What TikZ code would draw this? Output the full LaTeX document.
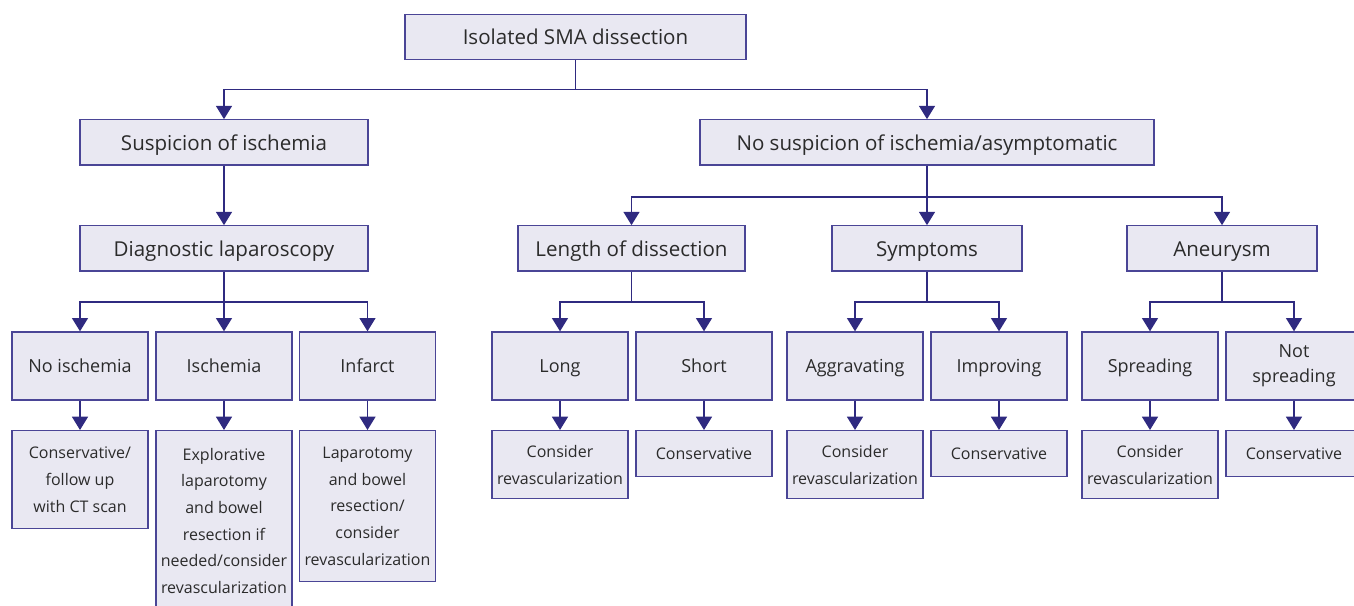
\documentclass[tikz,border=0pt]{standalone}
\usepackage{fontspec}
\setmainfont{Open Sans}
\usetikzlibrary{arrows.meta}
\definecolor{boxfill}{HTML}{E9E8F2}
\definecolor{boxline}{HTML}{4A4596}
\definecolor{arrcol}{HTML}{2F2A80}
\definecolor{txt}{HTML}{2B2B2B}
\begin{document}
\begin{tikzpicture}[x=0.75pt,y=-0.75pt,
  box/.style={draw=boxline,fill=boxfill,line width=1pt,inner sep=0pt,align=center,text=txt},
  big/.style={box,font=\fontsize{15.4}{19}\selectfont,minimum height=34pt,text height=12.4pt,text depth=1pt},
  mid/.style={box,font=\fontsize{13.5}{19}\selectfont,minimum width=102pt,minimum height=51pt},
  one/.style={text height=10.8pt,text depth=0.8pt},
  sml/.style={box,font=\fontsize{12}{20}\selectfont,minimum width=102pt,anchor=north},
  arr/.style={draw=arrcol,line width=1.1pt,-{Triangle[width=12pt,length=10pt]}}]
\useasboundingbox (0,0) rectangle (1354,606);
\clip (0,0) rectangle (1354,606);
% level 0-1
\node[big,minimum width=255.75pt] (top) at (575.5,37) {Isolated SMA dissection};
\node[big,minimum width=216pt] (susp) at (224,142.5) {Suspicion of ischemia};
\node[big,minimum width=340.5pt] (nosusp) at (927,142.5) {No suspicion of ischemia/asymptomatic};
% level 2
\node[big,minimum width=216pt] (diag) at (224,248.5) {Diagnostic laparoscopy};
\node[big,minimum width=170.25pt] (length) at (631.5,248.5) {Length of dissection};
\node[big,minimum width=142.5pt] (sympt) at (927,248.5) {Symptoms};
\node[big,minimum width=142.5pt] (aneur) at (1222,248.5) {Aneurysm};
% level 3
\node[mid,one] (noisch) at (80,366) {No ischemia};
\node[mid,one] (isch) at (224,366) {Ischemia};
\node[mid,one] (infarct) at (367.5,366) {Infarct};
\node[mid,one] (long) at (560,366) {Long};
\node[mid,one] (short) at (704,366) {Short};
\node[mid,one] (aggr) at (855,366) {Aggravating};
\node[mid,one] (impr) at (999,366) {Improving};
\node[mid,one] (spread) at (1150,366) {Spreading};
\node[mid] (notspread) at (1294,366) {Not\\spreading};
% level 4
\node[sml,minimum height=73.5pt] (r1) at (80,430) {Conservative/\\follow up\\with CT scan};
\node[sml,minimum height=135pt] (r2) at (224,430) {Explorative\\laparotomy\\and bowel\\resection if\\needed/consider\\revascularization};
\node[sml,minimum height=113.25pt] (r3) at (367.5,430) {Laparotomy\\and bowel\\resection/\\consider\\revascularization};
\node[sml,minimum height=51pt] (r4) at (560,430) {Consider\\revascularization};
\node[sml,minimum height=34.5pt] (r5) at (704,430) {Conservative};
\node[sml,minimum height=51pt] (r6) at (855,430) {Consider\\revascularization};
\node[sml,minimum height=34.5pt] (r7) at (999,430) {Conservative};
\node[sml,minimum height=51pt] (r8) at (1150,430) {Consider\\revascularization};
\node[sml,minimum height=34.5pt] (r9) at (1294,430) {Conservative};
% connectors
\draw[arr] (top.south) -- ++(0,29) -| (susp.north);
\draw[arr] (top.south) -- ++(0,29) -| (nosusp.north);
\draw[arr] (susp) -- (diag);
\draw[arr] (diag.south) -- ++(0,30) -| (noisch.north);
\draw[arr] (diag.south) -- ++(0,30) -| (isch.north);
\draw[arr] (diag.south) -- ++(0,30) -| (infarct.north);
\draw[arr] (nosusp.south) -- ++(0,31) -| (length.north);
\draw[arr] (nosusp.south) -- ++(0,31) -| (sympt.north);
\draw[arr] (nosusp.south) -- ++(0,31) -| (aneur.north);
\draw[arr] (length.south) -- ++(0,30) -| (long.north);
\draw[arr] (length.south) -- ++(0,30) -| (short.north);
\draw[arr] (sympt.south) -- ++(0,30) -| (aggr.north);
\draw[arr] (sympt.south) -- ++(0,30) -| (impr.north);
\draw[arr] (aneur.south) -- ++(0,30) -| (spread.north);
\draw[arr] (aneur.south) -- ++(0,30) -| (notspread.north);
\draw[arr] (noisch) -- (r1);
\draw[arr] (isch) -- (r2);
\draw[arr] (infarct) -- (r3);
\draw[arr] (long) -- (r4);
\draw[arr] (short) -- (r5);
\draw[arr] (aggr) -- (r6);
\draw[arr] (impr) -- (r7);
\draw[arr] (spread) -- (r8);
\draw[arr] (notspread) -- (r9);
\end{tikzpicture}
\end{document}
